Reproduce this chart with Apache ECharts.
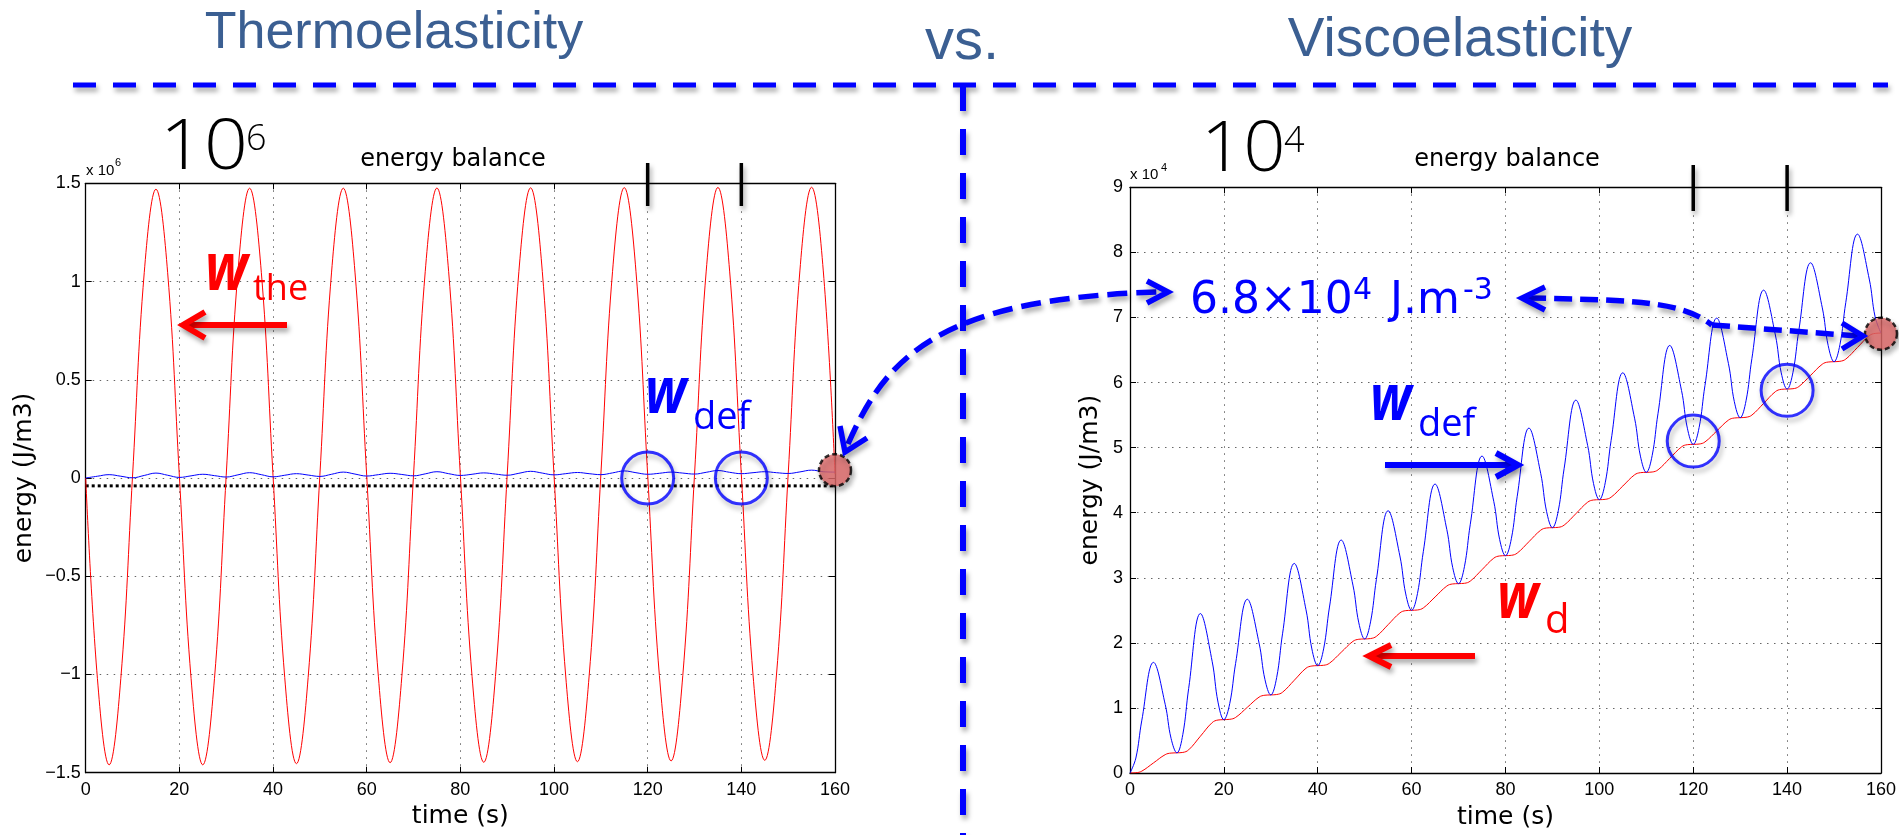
<!DOCTYPE html>
<html><head><meta charset="utf-8">
<script src="https://cdn.jsdelivr.net/npm/echarts@6/dist/echarts.min.js"></script>
<style>html,body{margin:0;padding:0;background:#fff;}#c{width:1899px;height:835px;}</style>
</head><body><div id="c"></div>
<script>
// ---------------- data ----------------
const timeTicks = [0, 20, 40, 60, 80, 100, 120, 140, 160];
const leftYTicks = [-1.5, -1, -0.5, 0, 0.5, 1, 1.5];      // x 10^6
const rightYTicks = [0, 1, 2, 3, 4, 5, 6, 7, 8, 9];        // x 10^4

const tLeft = [0,2.5,5,7.5,10,12.5,15,17.5,20,22.5,25,27.5,30,32.5,35,37.5,40,42.5,45,47.5,50,52.5,55,57.5,60,62.5,65,67.5,70,72.5,75,77.5,80,82.5,85,87.5,90,92.5,95,97.5,100,102.5,105,107.5,110,112.5,115,117.5,120,122.5,125,127.5,130,132.5,135,137.5,140,142.5,145,147.5,150,152.5,155,157.5,160];
// w_the (thermoelastic), x 10^6 J/m3
const wTheLeft = [0,-1.02,-1.46,-1.02,0.01,1.045,1.47,1.045,
  0.01,-1.02,-1.46,-1.02,0.012,1.047,1.475,1.047,
  0.012,-1.015,-1.454,-1.015,0.013,1.048,1.475,1.048,
  0.013,-1.012,-1.449,-1.012,0.014,1.05,1.476,1.05,
  0.014,-1.01,-1.447,-1.01,0.015,1.051,1.477,1.051,
  0.015,-1.008,-1.444,-1.008,0.016,1.052,1.478,1.052,
  0.016,-1.005,-1.44,-1.005,0.017,1.053,1.479,1.053,
  0.017,-1.003,-1.437,-1.003,0.018,1.054,1.48,1.054,
  0.02];
// w_def (thermoelastic), x 10^6 J/m3
const wDefLeft = [0,0.009,0.017,0.009,0.001,0.013,0.025,0.014,
  0.003,0.011,0.019,0.012,0.005,0.016,0.027,0.017,
  0.006,0.014,0.022,0.015,0.008,0.019,0.03,0.02,
  0.01,0.017,0.024,0.018,0.011,0.021,0.032,0.022,
  0.013,0.019,0.026,0.02,0.014,0.024,0.034,0.025,
  0.016,0.022,0.028,0.022,0.017,0.026,0.036,0.027,
  0.019,0.024,0.03,0.025,0.02,0.029,0.038,0.029,
  0.022,0.027,0.032,0.027,0.023,0.031,0.04,0.032,
  0.03];
const baselineT = [0, 160];
const baselineLeft = [-0.04, -0.04];

const tRight = [0,1.25,2.5,5,7.5,8.75,10,11.25,12.5,15,17.5,18.75,20,21.25,22.5,25,27.5,28.75,
  30,31.25,32.5,35,37.5,38.75,40,41.25,42.5,45,47.5,48.75,50,51.25,52.5,55,57.5,58.75,
  60,61.25,62.5,65,67.5,68.75,70,71.25,72.5,75,77.5,78.75,80,81.25,82.5,85,87.5,88.75,
  90,91.25,92.5,95,97.5,98.75,100,101.25,102.5,105,107.5,108.75,110,111.25,112.5,115,117.5,118.75,
  120,121.25,122.5,125,127.5,128.75,130,131.25,132.5,135,137.5,138.75,140,141.25,142.5,145,147.5,148.75,
  150,151.25,152.5,155,157.5,158.75,160];
// w_d (viscous dissipation), x 10^4 J/m3
const wDRight = [0,0.004,0.028,0.155,0.282,0.306,
  0.31,0.316,0.356,0.565,0.774,0.814,
  0.82,0.825,0.854,1.01,1.166,1.195,
  1.2,1.206,1.241,1.425,1.61,1.644,
  1.65,1.655,1.687,1.855,2.023,2.055,
  2.06,2.066,2.1,2.28,2.46,2.495,
  2.5,2.505,2.537,2.705,2.873,2.905,
  2.91,2.915,2.949,3.125,3.301,3.335,
  3.34,3.345,3.379,3.555,3.731,3.765,
  3.77,3.775,3.809,3.985,4.161,4.195,
  4.2,4.205,4.238,4.41,4.582,4.615,
  4.62,4.625,4.659,4.835,5.011,5.045,
  5.05,5.055,5.087,5.255,5.423,5.455,
  5.46,5.466,5.5,5.68,5.86,5.895,
  5.9,5.905,5.938,6.11,6.282,6.315,
  6.32,6.326,6.36,6.54,6.72,6.755,
  6.76];
// w_def (viscoelastic), x 10^4 J/m3
const wDefRight = [0,0.23,0.801,1.70,1.055,0.532,
  0.31,0.591,1.299,2.45,1.717,1.089,
  0.82,1.067,1.684,2.67,1.996,1.437,
  1.2,1.468,2.139,3.22,2.508,1.906,
  1.65,1.907,2.55,3.58,2.886,2.307,
  2.06,2.322,2.975,4.03,3.335,2.751,
  2.5,2.758,3.405,4.44,3.741,3.158,
  2.91,3.17,3.822,4.87,4.174,3.59,
  3.34,3.6,4.252,5.3,4.604,4.02,
  3.77,4.03,4.682,5.73,5.034,4.45,
  4.2,4.459,5.108,6.15,5.452,4.869,
  4.62,4.878,5.527,6.57,5.879,5.298,
  5.05,5.308,5.955,6.99,6.291,5.708,
  5.46,5.72,6.37,7.42,6.73,6.149,
  5.9,6.158,6.803,7.84,7.147,6.568,
  6.32,6.58,7.23,8.28,7.59,7.009,
  6.76];

const circleT = [120, 140];
const circleLeft = [0, 0];
const circleRight = [5.1, 5.88];
const endT = [160];
const endLeft = [0.04];
const endRight = [6.75];
const markT = [120, 140];

// ---------------- chart ----------------
const FAX = '"Liberation Sans", Arial, sans-serif';
const FDJ = '"DejaVu Sans", sans-serif';
const FOS = '"Open Sans", "Noto Sans", sans-serif';
const RED = '#ff0000', BLUE = '#0000ff';
const SH = {shadowBlur: 5, shadowOffsetX: 2, shadowOffsetY: 4, shadowColor: 'rgba(0,0,0,0.35)'};

const zip = (a, b) => a.map((v, i) => [v, b[i]]);
const chart = echarts.init(document.getElementById('c'), null, {renderer: 'canvas'});

const grids = [
  {left: 85.7, top: 183.3, width: 749.3, height: 589.4},
  {left: 1130, top: 187.3, width: 751, height: 594}
];
const splitStyle = {show: true, lineStyle: {color: '#666', width: 1, type: [1.5, 5.5]}};
function xAx(gi, pos) {
  const main = pos === 'bottom';
  return {
    type: 'value', gridIndex: gi, position: pos, min: timeTicks[0], max: timeTicks[timeTicks.length - 1], interval: 20,
    axisLine: {show: true, onZero: false, lineStyle: {color: '#000', width: 1.3}},
    axisTick: {show: true, inside: true, length: 6, lineStyle: {color: '#000'}},
    axisLabel: {show: main, margin: 8, color: '#000', fontSize: 18, fontFamily: FAX},
    splitLine: main ? splitStyle : {show: false},
    name: main ? 'time (s)' : '', nameLocation: 'middle', nameGap: gi === 0 ? 30 : 32,
    nameTextStyle: {color: '#000', fontSize: 25, fontFamily: FDJ}
  };
}
function yAx(gi, pos, ticks, itv) {
  const main = pos === 'left';
  return {
    type: 'value', gridIndex: gi, position: pos, min: ticks[0], max: ticks[ticks.length - 1], interval: itv,
    axisLine: {show: true, onZero: false, lineStyle: {color: '#000', width: 1.3}},
    axisTick: {show: true, inside: true, length: 6, lineStyle: {color: '#000'}},
    axisLabel: {show: main, margin: gi === 0 ? 5 : 7, color: '#000', fontSize: 18, fontFamily: FAX,
      formatter: v => v < 0 ? '\u2212' + (-v) : String(v)},
    splitLine: main ? splitStyle : {show: false},
    name: main ? 'energy (J/m3)' : '', nameLocation: 'middle', nameGap: gi === 0 ? 49 : 27,
    nameTextStyle: {color: '#000', fontSize: 25, fontFamily: FDJ}
  };
}
function lineSeries(xi, data, color, extra) {
  return Object.assign({type: 'line', xAxisIndex: xi, yAxisIndex: xi, data: data, showSymbol: false, symbol: 'none',
    smooth: 0.4, lineStyle: {color: color, width: 1}, silent: true}, extra || {});
}
function circles(xi, data) {
  return {type: 'scatter', xAxisIndex: xi, yAxisIndex: xi, data: data, symbol: 'circle', symbolSize: 52, clip: false, z: 5,
    itemStyle: Object.assign({color: 'rgba(255,255,255,0)', borderColor: BLUE, borderWidth: 3}, SH), silent: true};
}
function endDot(xi, data) {
  return {type: 'scatter', xAxisIndex: xi, yAxisIndex: xi, data: data, symbol: 'circle', symbolSize: 32, clip: false, z: 6,
    itemStyle: Object.assign({color: '#e26a6a', borderColor: '#000', borderWidth: 2.5, borderType: [5, 3]}, SH), silent: true};
}

const option = {
  animation: false,
  backgroundColor: '#fff',
  grid: grids,
  xAxis: [xAx(0, 'bottom'), xAx(1, 'bottom'), xAx(0, 'top'), xAx(1, 'top')],
  yAxis: [yAx(0, 'left', leftYTicks, 0.5), yAx(1, 'left', rightYTicks, 1), yAx(0, 'right', leftYTicks, 0.5), yAx(1, 'right', rightYTicks, 1)],
  series: [
    lineSeries(0, zip(baselineT, baselineLeft), '#000', {smooth: false, lineStyle: {color: '#000', width: 3, type: [3, 3]}}),
    lineSeries(0, zip(tLeft, wTheLeft), RED),
    lineSeries(0, zip(tLeft, wDefLeft), BLUE),
    circles(0, zip(circleT, circleLeft)),
    endDot(0, zip(endT, endLeft)),
    lineSeries(1, zip(tRight, wDRight), RED),
    lineSeries(1, zip(tRight, wDefRight), BLUE),
    circles(1, zip(circleT, circleRight)),
    endDot(1, zip(endT, endRight))
  ]
};
chart.setOption(option);

// ---------------- annotations ----------------
function txt(x, base, s, size, color, fam, o) {
  o = o || {};
  const mid = fam === FOS ? 0.388 : 0.346;
  const al = o.align || 'left';
  return {type: 'text', x: x, y: base - mid * size, scaleX: o.sx || 1, z: 100, silent: true,
    style: {text: s, x: 0, y: 0, font: (o.style || 'normal') + ' ' + (o.weight || 'normal') + ' ' + size + 'px ' + fam,
      fill: color, textAlign: al, align: al, textVerticalAlign: 'middle', verticalAlign: 'middle'}};
}
function ln(x1, y1, x2, y2, color, w, dash, sh) {
  return {type: 'line', z: 90, silent: true, shape: {x1, y1, x2, y2},
    style: Object.assign({stroke: color, lineWidth: w, lineDash: dash || null, lineCap: 'butt'}, sh ? SH : {})};
}
function chev(pts, color, w) {
  return {type: 'polyline', z: 95, silent: true, shape: {points: pts},
    style: Object.assign({stroke: color, lineWidth: w, fill: null, lineJoin: 'miter', lineCap: 'butt'}, SH)};
}
function bez(x1, y1, cx1, cy1, cx2, cy2, x2, y2, color, w, dash) {
  return {type: 'bezierCurve', z: 90, silent: true, shape: {x1, y1, cpx1: cx1, cpy1: cy1, cpx2: cx2, cpy2: cy2, x2, y2},
    style: Object.assign({stroke: color, lineWidth: w, lineDash: dash, fill: null}, SH)};
}

const TITLE = '#3b5f92';
const g = [];
// dividers
g.push(ln(73, 85, 1888, 85, BLUE, 5, [23, 17], true));
g.push(ln(963, 85, 963, 835, BLUE, 6, [26, 18], true));
// titles
g.push(txt(394, 52, 'Thermoelasticity', 52, TITLE, FAX, {align: 'center'}));
g.push(txt(962, 63, 'vs.', 58, TITLE, FAX, {align: 'center'}));
g.push(txt(1460, 60, 'Viscoelasticity', 55, TITLE, FAX, {align: 'center'}));

// left chart headings
g.push(txt(160, 176, '10', 70, '#000', FOS, {weight: 300, sx: 1.1}));
g.push(txt(246, 154, '6', 36, '#000', FOS, {weight: 300}));
g.push(txt(453, 168, 'energy balance', 24, '#000', FDJ, {align: 'center'}));
g.push(txt(86, 176, 'x 10', 15, '#000', FAX));
g.push(txt(115, 167, '6', 11, '#000', FAX));
// right chart headings
g.push(txt(1201, 178, '10', 70, '#000', FOS, {weight: 300, sx: 1.06}));
g.push(txt(1284, 156, '4', 36, '#000', FOS, {weight: 300}));
g.push(txt(1507, 168, 'energy balance', 24, '#000', FDJ, {align: 'center'}));
g.push(txt(1130, 180, 'x 10', 15, '#000', FAX));
g.push(txt(1161, 172, '4', 11, '#000', FAX));

// marks at t=120, 140 above both charts
markT.forEach(t => {
  const pl = chart.convertToPixel({xAxisIndex: 0, yAxisIndex: 0}, [t, 0]);
  const pr = chart.convertToPixel({xAxisIndex: 1, yAxisIndex: 1}, [t, 0]);
  g.push(ln(pl[0], 163, pl[0], 206, '#000', 3.5, null, true));
  g.push(ln(pr[0], 165, pr[0], 211, '#000', 3.5, null, true));
});

// labels w_the, w_def, w_d
g.push(txt(205, 297, 'w', 66, RED, FOS, {weight: 'bold', style: 'italic', sx: 0.82}));
g.push(txt(253, 304, 'the', 36, RED, FOS));
g.push(txt(645, 420, 'w', 64, BLUE, FOS, {weight: 'bold', style: 'italic', sx: 0.82}));
g.push(txt(693, 433, 'def', 38, BLUE, FOS));
g.push(txt(1370, 427, 'w', 64, BLUE, FOS, {weight: 'bold', style: 'italic', sx: 0.82}));
g.push(txt(1418, 440, 'def', 38, BLUE, FOS));
g.push(txt(1497, 625, 'w', 64, RED, FOS, {weight: 'bold', style: 'italic', sx: 0.82}));
g.push(txt(1545, 637, 'd', 40, RED, FOS));

// straight arrows
g.push(ln(186, 325, 287, 325, RED, 6, null, true));
g.push(chev([[205, 312], [183, 325], [205, 338]], RED, 6));
g.push(ln(1385, 465, 1514, 465, BLUE, 6, null, true));
g.push(chev([[1496, 453], [1518, 465], [1496, 477]], BLUE, 6));
g.push(ln(1373, 656, 1475, 656, RED, 6, null, true));
g.push(chev([[1391, 645], [1369, 656], [1391, 667]], RED, 6));

// 6.8x10^4 J.m^-3
g.push(txt(1190, 317, '6.8\u00d710', 44, BLUE, FDJ));
g.push(txt(1353, 302, '4', 30, BLUE, FDJ));
g.push(txt(1390, 317, 'J.m', 44, BLUE, FDJ));
g.push(txt(1463, 302, '-3', 30, BLUE, FDJ));

// curved dashed arrow from left end point to value text
g.push(bez(848, 444, 885, 360, 935, 298, 1160, 292, BLUE, 5.5, [20, 9]));
g.push(chev([[840, 426], [845, 452], [867, 438]], BLUE, 5.5));
g.push(chev([[1147, 281], [1168, 292], [1147, 303]], BLUE, 5.5));
// double arrow in right chart
g.push(bez(1528, 298, 1640, 300, 1682, 302, 1712, 325, BLUE, 5.5, [18, 8]));
g.push(ln(1712, 325, 1858, 336, BLUE, 5.5, [18, 8], true));
g.push(chev([[1545, 287], [1522, 298], [1545, 310]], BLUE, 5.5));
g.push(chev([[1842, 323], [1863, 336], [1842, 349]], BLUE, 5.5));

chart.setOption({graphic: {elements: g}});
</script>
</body></html>
